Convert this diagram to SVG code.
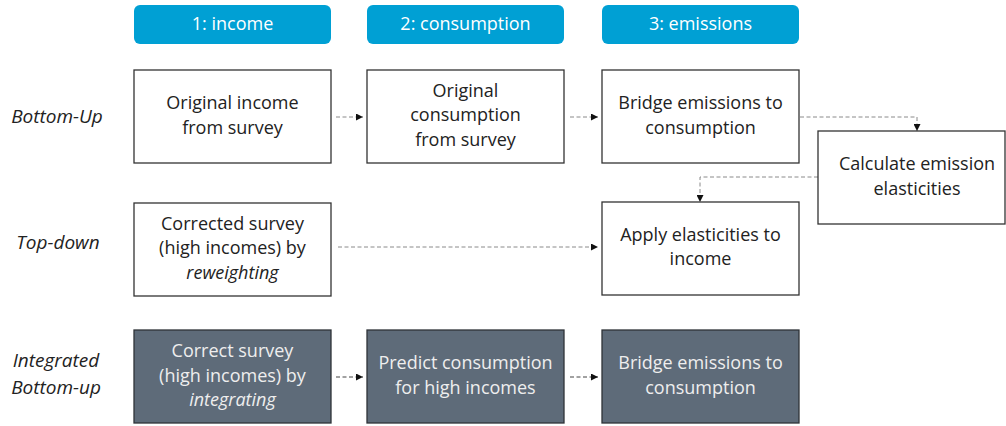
<svg xmlns="http://www.w3.org/2000/svg" width="1006" height="426" viewBox="0 0 1006 426">
  <style>
    text { font-family: "Open Sans", "Liberation Sans", sans-serif; font-size: 18px; text-anchor: middle; }
    .hdr rect { fill: #00a0d4; }
    .hdr text { fill: #ffffff; }
    .box rect { fill: #ffffff; stroke: #333333; stroke-width: 1.3; }
    .box text { fill: #222222; }
    .dark rect { fill: #5e6b79; stroke: #2e3338; stroke-width: 1.3; }
    .dark text { fill: #eeeeee; }
    .row text { fill: #222222; font-style: italic; font-size: 19px; }
    .conn path { fill: none; stroke: #8a8a8a; stroke-width: 1; stroke-dasharray: 4 2.5; marker-end: url(#tip); }
    .conn path.d { stroke: #444444; }
  </style>
  <defs>
    <marker id="tip" viewBox="0 0 8 8" refX="8" refY="4" markerWidth="7" markerHeight="7" markerUnits="userSpaceOnUse" orient="auto">
      <path d="M0,0 L8,4 L0,8 z" fill="#111111"/>
    </marker>
  </defs>

  <!-- column headers -->
  <g id="hdr-income" class="hdr"><rect x="134" y="5" width="197" height="39" rx="6"/><text x="232.5" y="30">1: income</text></g>
  <g id="hdr-consumption" class="hdr"><rect x="367" y="5" width="197" height="39" rx="6"/><text x="465.5" y="30">2: consumption</text></g>
  <g id="hdr-emissions" class="hdr"><rect x="602" y="5" width="197" height="39" rx="6"/><text x="700.5" y="30">3: emissions</text></g>

  <!-- row labels -->
  <g id="lbl-bottomup" class="row"><text x="57" y="123">Bottom-Up</text></g>
  <g id="lbl-topdown" class="row"><text x="58" y="249">Top-down</text></g>
  <g id="lbl-integrated" class="row"><text x="56" y="367">Integrated</text><text x="56" y="394">Bottom-up</text></g>

  <!-- connectors -->
  <g id="connectors" class="conn">
    <path d="M336,117 H363"/>
    <path d="M570,117 H598"/>
    <path d="M800,117 H917 V131"/>
    <path d="M818,177 H700 V202"/>
    <path d="M338,247 H598"/>
    <path class="d" d="M336,377 H363"/>
    <path class="d" d="M570,377 H598"/>
  </g>

  <!-- bottom-up row -->
  <g id="bu-income" class="box"><rect x="134" y="70" width="197" height="93"/><text x="232.5" y="109">Original income</text><text x="232.5" y="134">from survey</text></g>
  <g id="bu-consumption" class="box"><rect x="367" y="70" width="197" height="93"/><text x="465.5" y="97">Original</text><text x="465.5" y="121">consumption</text><text x="465.5" y="146">from survey</text></g>
  <g id="bu-emissions" class="box"><rect x="602" y="70" width="197" height="93"/><text x="700.5" y="109">Bridge emissions to</text><text x="700.5" y="134">consumption</text></g>
  <g id="elasticities" class="box"><rect x="818" y="131" width="187" height="93"/><text x="917" y="170">Calculate emission</text><text x="917" y="195">elasticities</text></g>

  <!-- top-down row -->
  <g id="td-income" class="box"><rect x="134" y="203" width="197" height="93"/><text x="232.5" y="230">Corrected survey</text><text x="232.5" y="254">(high incomes) by</text><text x="232.5" y="279" font-style="italic">reweighting</text></g>
  <g id="td-emissions" class="box"><rect x="602" y="202" width="197" height="93"/><text x="700.5" y="241">Apply elasticities to</text><text x="700.5" y="265">income</text></g>

  <!-- integrated bottom-up row -->
  <g id="ib-income" class="dark"><rect x="134" y="330" width="197" height="93"/><text x="232.5" y="357">Correct survey</text><text x="232.5" y="382">(high incomes) by</text><text x="232.5" y="406" font-style="italic">integrating</text></g>
  <g id="ib-consumption" class="dark"><rect x="367" y="330" width="197" height="93"/><text x="465.5" y="369">Predict consumption</text><text x="465.5" y="394">for high incomes</text></g>
  <g id="ib-emissions" class="dark"><rect x="602" y="330" width="197" height="93"/><text x="700.5" y="369">Bridge emissions to</text><text x="700.5" y="394">consumption</text></g>
</svg>
